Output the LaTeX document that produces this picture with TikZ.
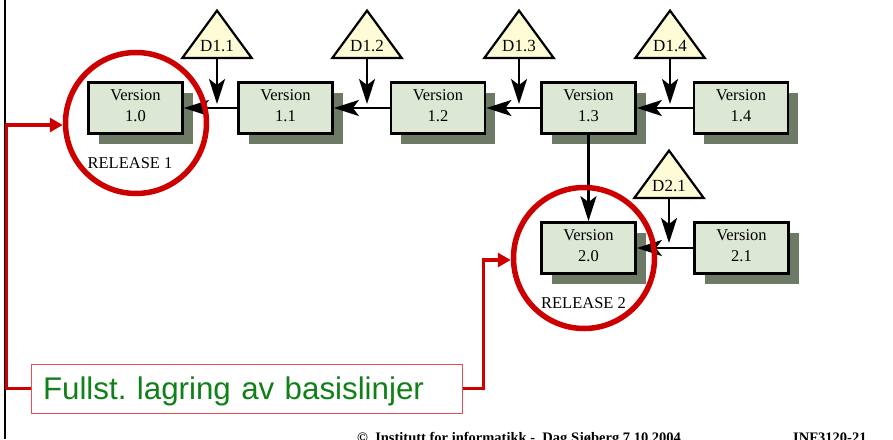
\documentclass[tikz,border=0pt]{standalone}
\usepackage{fontspec}
\setmainfont{Liberation Serif}
\newfontfamily\notefont{Liberation Sans}
\usetikzlibrary{arrows.meta, shadows}
\frenchspacing

\definecolor{boxfill}{RGB}{221,232,212}
\definecolor{shadowcol}{RGB}{108,122,102}
\definecolor{trifill}{RGB}{253,252,214}
\definecolor{relred}{RGB}{204,0,0}
\definecolor{notegreen}{RGB}{16,128,24}
\definecolor{noteframe}{RGB}{226,80,80}

\pgfdeclarelayer{background}
\pgfsetlayers{background,main}

\begin{document}
\begin{tikzpicture}[x=1pt, y=-1pt,
  vbox/.style={draw=black, line width=2.8pt, fill=boxfill,
    minimum width=94pt, minimum height=51pt, inner sep=0pt,
    align=center, font=\fontsize{16.5}{21}\selectfont, text depth=5pt,
    drop shadow={shadow xshift=10pt, shadow yshift=-10pt,
      fill=shadowcol, opacity=1}},
  delta/.style={rectangle, minimum width=69pt, minimum height=47pt,
    inner sep=0pt, text height=35pt, text depth=0pt,
    font=\fontsize{17}{17}\selectfont, anchor=south},
  deltashape/.style={draw=black, line width=2.2pt, fill=trifill,
    line join=miter},
  arr/.style={-{Stealth[length=25pt, width=16pt, inset=6pt]},
    line width=2.4pt},
  release/.style={circle, draw=relred, line width=5.5pt,
    minimum size=141pt, inner sep=0pt},
  rellabel/.style={font=\fontsize{16.5}{16.5}\selectfont, anchor=base},
  redarr/.style={draw=relred, line width=3.2pt,
    -{Triangle[length=13pt, width=14pt]}},
  footer/.style={font=\fontsize{14.5}{14.5}\selectfont\bfseries,
    anchor=base west, inner sep=0pt}
]
\useasboundingbox (0,0) rectangle (893,439);
\clip (0,0) rectangle (893,439);

% slide frame on the left
\draw[line width=1.5pt] (5,0) -- (5,439);

% versions
\node[vbox] (v10) at (135.5,108) {Version\\1.0};
\node[vbox] (v11) at (285.5,108) {Version\\1.1};
\node[vbox] (v12) at (438,108)   {Version\\1.2};
\node[vbox] (v13) at (588.5,108) {Version\\1.3};
\node[vbox] (v14) at (741,108)   {Version\\1.4};
\node[vbox] (v20) at (588.5,248) {Version\\2.0};
\node[vbox] (v21) at (741.5,248) {Version\\2.1};

% deltas
\node[delta] (d11) at (217,58)  {D1.1};
\node[delta] (d12) at (367,58)  {D1.2};
\node[delta] (d13) at (519,58)  {D1.3};
\node[delta] (d14) at (670,58)  {D1.4};
\node[delta] (d21) at (669,198) {D2.1};

% triangle outline behind each delta label
\begin{pgfonlayer}{background}
  \foreach \d in {d11,d12,d13,d14,d21}
    \filldraw[deltashape] (\d.south west) -- (\d.south east)
      -- (\d.north) -- cycle;
\end{pgfonlayer}

% points where deltas are applied
\coordinate (j11) at (217,104);
\coordinate (j12) at (367,104);
\coordinate (j13) at (519,104);
\coordinate (j14) at (670,104);
\coordinate (j21) at (669,243);

% derivation chain
\draw[arr] (v11.west) -- (v10.east);
\draw[arr] (v12.west) -- (v11.east);
\draw[arr] (v13.west) -- (v12.east);
\draw[arr] (v14.west) -- (v13.east);
\draw[arr] (v21.west) -- (v20.east);
\draw[arr] (v13.south) -- (v20.north);

\draw[arr] (d11.south) -- (j11);
\draw[arr] (d12.south) -- (j12);
\draw[arr] (d13.south) -- (j13);
\draw[arr] (d14.south) -- (j14);
\draw[arr] (d21.south) -- (j21);

% releases
\node[release] (rel1) at (136,123) {};
\node[release] (rel2) at (584,258) {};
\node[rellabel] (rl1) at (130,168) {RELEASE 1};
\node[rellabel] (rl2) at (583.5,308) {RELEASE 2};

% baseline storage note
\node[draw=noteframe, line width=1pt, text width=407pt, align=left,
  inner xsep=12pt, minimum height=49pt, text depth=0pt,
  font=\notefont\fontsize{31.3}{32}\selectfont, text=notegreen]
  (fb) at (246.5,388.5) {Fullst. lagring av basislinjer};

\draw[redarr] (fb.west) -- ++(-24,0) |- ([yshift=-2pt]rel1.west);
\draw[redarr] (fb.east) -- ++(21,0) |- ([yshift=-2pt]rel2.west);

% footer
\node[footer] (foot) at (357,442) {\copyright\ \ Institutt for informatikk -\ \ Dag Sjøberg 7.10.2004};
\node[footer] (page) at (793,442) {INF3120-21};
\end{tikzpicture}
\end{document}
